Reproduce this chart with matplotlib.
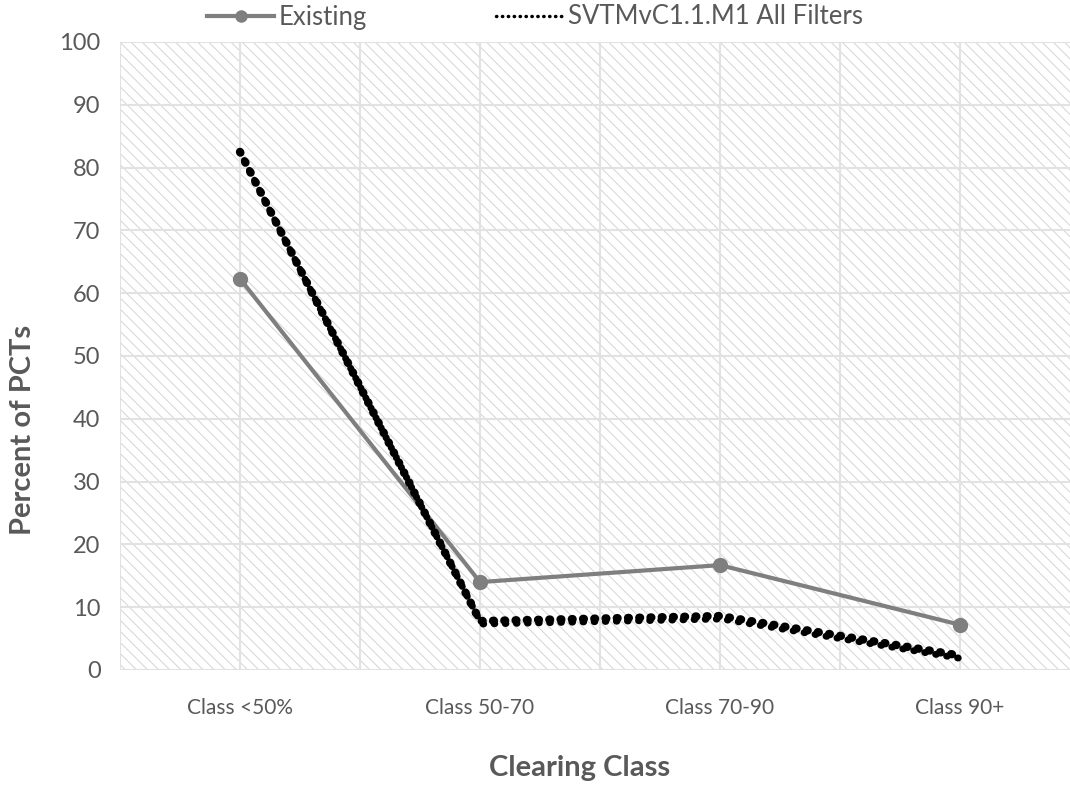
import matplotlib
matplotlib.use("Agg")
import matplotlib.pyplot as plt
import matplotlib.transforms as mtransforms
from matplotlib.lines import Line2D

categories = ["Class <50%", "Class 50-70", "Class 70-90", "Class 90+"]
existing = [62.3, 14.0, 16.7, 7.2]
svtm = [82.5, 7.8, 8.6, 2.3]
y_ticks = [0, 10, 20, 30, 40, 50, 60, 70, 80, 90, 100]

plt.rcParams['font.family'] = ['Lato', 'DejaVu Sans']
plt.rcParams['hatch.linewidth'] = 0.7

text_grey = '#595959'

fig = plt.figure(figsize=(10.7, 7.85), dpi=100)
ax = fig.add_axes([120 / 1070, 1 - 670 / 785, 960 / 1070, 628 / 785])

# hatched plot area
ax.add_patch(plt.Rectangle((0, 0), 1, 1, transform=ax.transAxes, facecolor='white',
                           edgecolor='#d4d4d4', linewidth=0, hatch='\\\\\\', zorder=0))

x = list(range(len(categories)))
ax.set_xlim(-0.5, 3.5)
ax.set_ylim(0, 100)

# gridlines every half category
for gx in [i * 0.5 - 0.5 for i in range(9)]:
    ax.axvline(gx, color='#e2e2e2', lw=1.5, zorder=1)
for gy in y_ticks:
    ax.axhline(gy, color='#e2e2e2', lw=1.5, zorder=1)

ax.plot(x, existing, color='#7f7f7f', lw=3, marker='o', markersize=10, zorder=3)

# thick dotted series, drawn twice with a slight offset for the doubled look
off = mtransforms.ScaledTranslation(1.5 / 100, -3.0 / 100, fig.dpi_scale_trans)
ax.plot(x, svtm, color='black', lw=6, linestyle=(0, (0.1, 1.25)), dash_capstyle='round',
        zorder=4)
ax.plot(x, svtm, color='black', lw=5, linestyle=(0.7, (0.1, 1.5)), dash_capstyle='round',
        zorder=4, transform=ax.transData + off)

ax.set_xticks(x)
ax.set_xticklabels(categories, fontsize=15, color=text_grey)
ax.set_yticks(y_ticks)
ax.set_yticklabels([str(v) for v in y_ticks], fontsize=17, color=text_grey)
ax.tick_params(length=0, pad=14)
ax.tick_params(axis='x', pad=20)
for s in ax.spines.values():
    s.set_visible(False)

ax.set_ylabel('Percent of PCTs', fontsize=21, fontweight='bold', color=text_grey)
ax.yaxis.set_label_coords(-0.088, 0.382)
fig.text(580 / 1070, 1 - 768 / 785, 'Clearing Class', fontsize=21, fontweight='bold',
         color=text_grey, ha='center', va='center')

handles = [
    Line2D([], [], color='#7f7f7f', lw=3, marker='o', markersize=8),
    Line2D([], [], color='black', lw=2.5, linestyle=(0, (0.1, 1.6)), dash_capstyle='round'),
]
fig.legend(handles, ['Existing', 'SVTMvC1.1.M1 All Filters'], loc='center',
           bbox_to_anchor=(535 / 1070, 1 - 17 / 785), ncol=2, frameon=False,
           fontsize=18.5, labelcolor=text_grey, handlelength=2.6, handletextpad=0.2,
           columnspacing=5.0)

fig.savefig('out.png', dpi=100)
